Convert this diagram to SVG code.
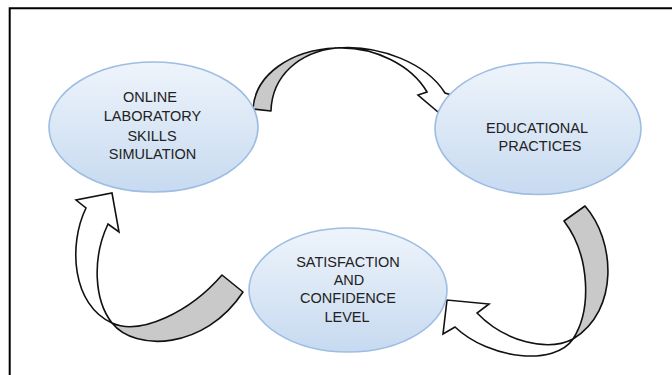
<svg xmlns="http://www.w3.org/2000/svg" width="672" height="375" viewBox="0 0 672 375">
  <defs>
    <linearGradient id="bubble" x1="0" y1="0" x2="0" y2="1">
      <stop offset="0" stop-color="#eef4fb"/>
      <stop offset="1" stop-color="#c7daf0"/>
    </linearGradient>
    <style>
      .node ellipse { fill: url(#bubble); stroke: #9dbde2; stroke-width: 1.6; }
      .node text { font-family: "Liberation Sans", Arial, sans-serif; font-size: 14.5px; fill: #222; text-anchor: middle; }
      .back { fill: #c9c9c9; stroke: #111; stroke-width: 1.6; stroke-linejoin: round; }
      .front { fill: #ffffff; stroke: #111; stroke-width: 1.6; stroke-linejoin: miter; }
    </style>
  </defs>

  <rect width="672" height="375" fill="#ffffff"/>
  <!-- outer frame (open on the right and bottom) -->
  <path d="M9.7,376 V8.3 H673" fill="none" stroke="#000" stroke-width="2"/>

  <g id="connectors">
    <!-- top: simulation -> educational practices -->
    <g id="arrow-top">
      <path class="back" d="M336,48 C290,50 255,75 253,109 L271,111 C272,75 300,52 336,48 Z"/>
      <path class="front" d="M336,48 C375,46 412,66 427,92 L418,95 L438,112 L455,96 L445,93 C427,64 380,44 336,48 Z"/>
    </g>
    <!-- right: educational practices -> satisfaction -->
    <g id="arrow-right">
      <path class="back" d="M573,339 C592,310 590,255 564,221 L585,206 C615,240 620,310 573,339 Z"/>
      <path class="front" d="M573,339 C555,366 490,360 455,327 L443,334 L447,300 L489,304 L477,313 C505,342 548,352 573,339 Z"/>
    </g>
    <!-- left: satisfaction -> simulation -->
    <g id="arrow-left">
      <path class="back" d="M112,323 C140,336 190,312 222,275 L243,292 C205,350 135,352 112,323 Z"/>
      <path class="front" d="M112,323 C72,305 68,245 86,208 L76,200 L112,193 L119,232 L108,224 C92,258 94,300 112,323 Z"/>
    </g>
  </g>

  <g id="node-simulation" class="node">
    <ellipse cx="153.5" cy="127" rx="104.5" ry="65"/>
    <text x="150" y="102">ONLINE</text>
    <text x="152.5" y="121">LABORATORY</text>
    <text x="152" y="140.5">SKILLS</text>
    <text x="152.5" y="159.3">SIMULATION</text>
  </g>

  <g id="node-educational" class="node">
    <ellipse cx="538" cy="128.5" rx="103" ry="66"/>
    <text x="537" y="133.3">EDUCATIONAL</text>
    <text x="540" y="150.7">PRACTICES</text>
  </g>

  <g id="node-satisfaction" class="node">
    <ellipse cx="348" cy="290" rx="99" ry="62"/>
    <text x="348" y="266.7">SATISFACTION</text>
    <text x="349" y="284.7">AND</text>
    <text x="348" y="303.3">CONFIDENCE</text>
    <text x="347" y="321.7">LEVEL</text>
  </g>
</svg>
